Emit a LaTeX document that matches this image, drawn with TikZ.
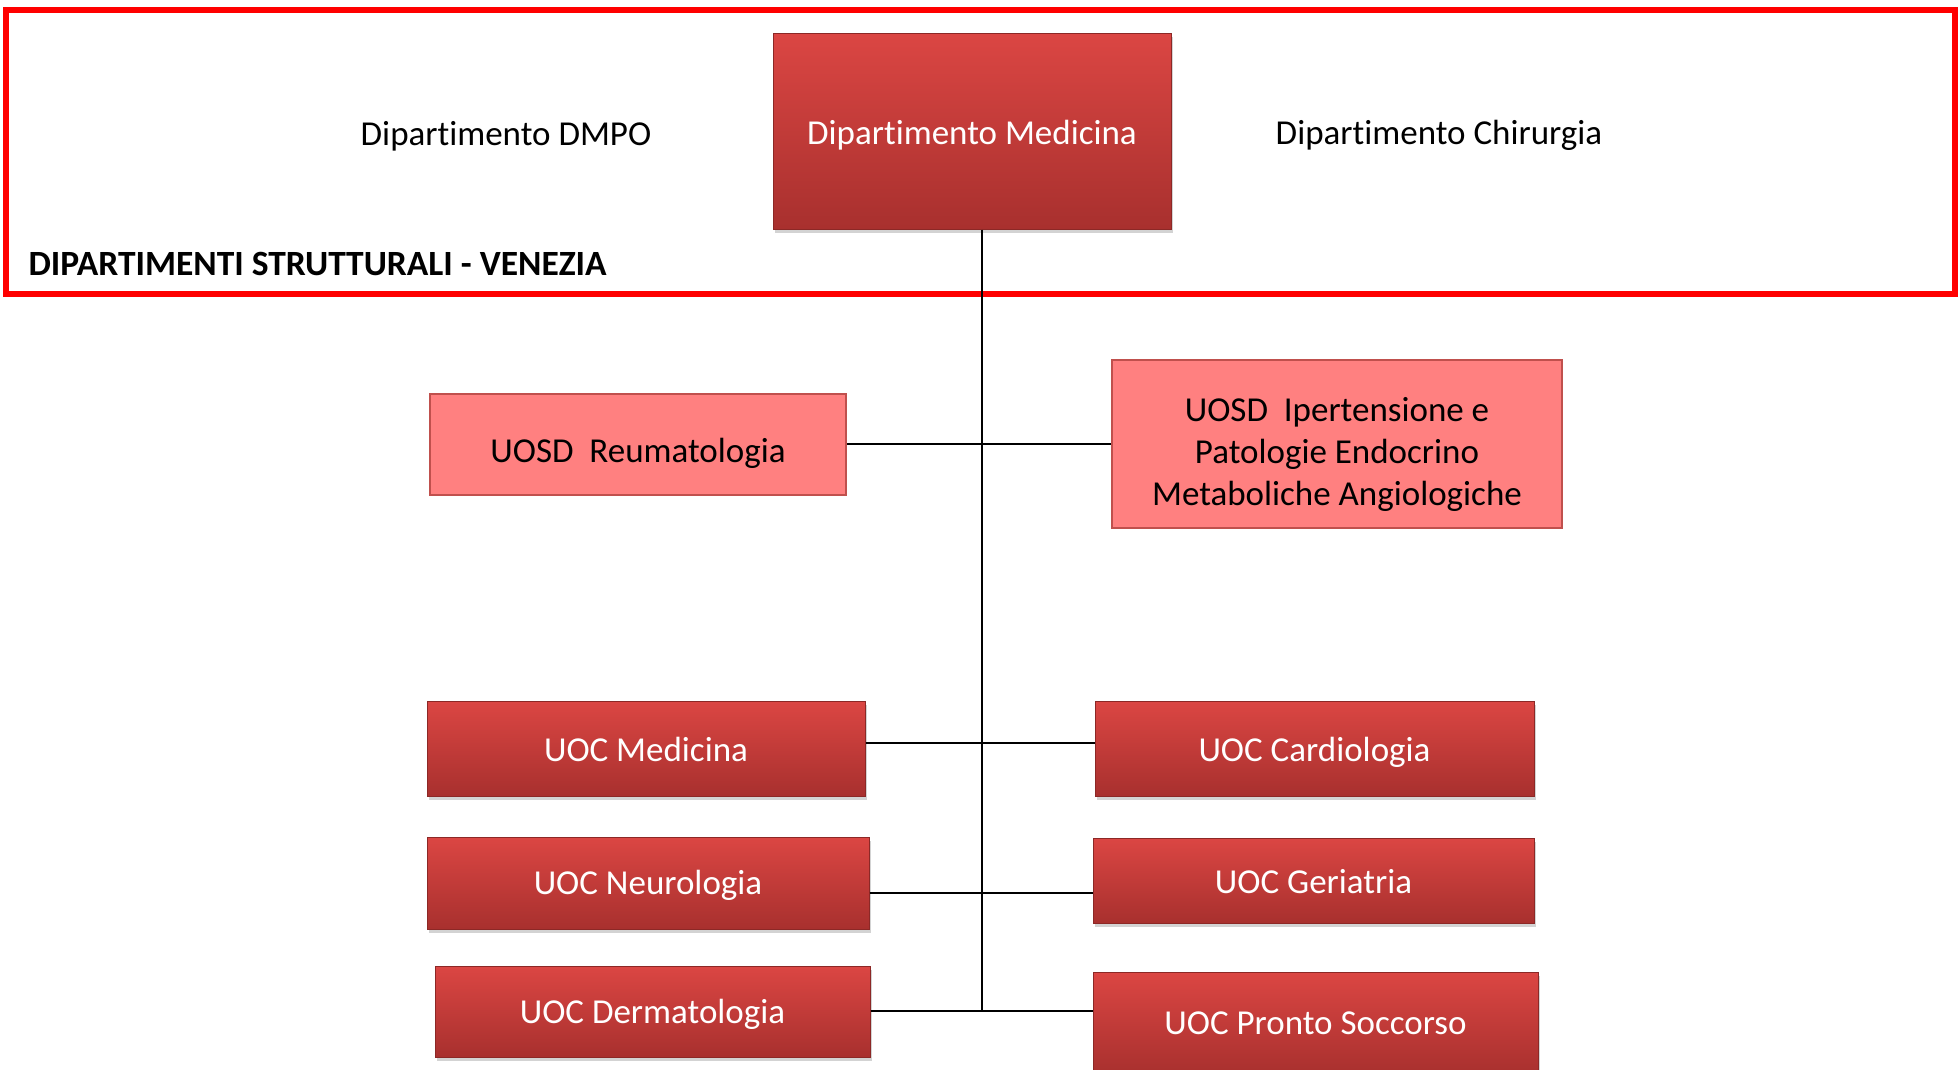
\documentclass[tikz,border=0pt]{standalone}
\usepackage{fontspec}
\setmainfont{Carlito}[Ligatures=NoCommon]
\usepackage{tikz}
\usetikzlibrary{shadows}

\definecolor{uoctop}{RGB}{219,70,67}
\definecolor{uocbot}{RGB}{168,48,46}
\definecolor{uocedge}{RGB}{140,40,38}
\definecolor{uosdfill}{RGB}{255,128,128}
\definecolor{uosdedge}{RGB}{192,80,77}

% strut that pushes the first line down inside a box
\newcommand{\lift}[1]{\rule{0pt}{#1}}

\tikzset{
    uoc/.style={draw=uocedge, line width=1pt, top color=uoctop, bottom color=uocbot,
        text=white, drop shadow={opacity=0.35, shadow xshift=2pt, shadow yshift=-4pt}},
    uosd/.style={draw=uosdedge, line width=2pt, fill=uosdfill, align=center},
    link/.style={line width=2pt}
}

\begin{document}
\begin{tikzpicture}[x=1pt, y=-1pt, font=\fontsize{35}{42}\selectfont]
    \useasboundingbox (0,0) rectangle (1959,1069);
    % frame of the structural departments
    \draw[red, line width=6pt] (6,10) rectangle (1955,294);
    \node(dmpo) at (506,136) {Dipartimento DMPO};
    \node(dmed)[uoc, minimum width=398pt, minimum height=196pt] at (972,131) {\lift{33pt}Dipartimento Medicina};
    \node(dchir) at (1439,135) {Dipartimento Chirurgia};
    \node(title)[anchor=west, font=\fontsize{35.5}{42}\selectfont\bfseries] at (25,264) {DIPARTIMENTI STRUTTURALI - VENEZIA};

    % simple units
    \node(reuma)[uosd, minimum width=416pt, minimum height=101pt] at (638,444) {\lift{42pt}UOSD\ \ Reumatologia};
    \node(iper)[uosd, minimum width=450pt, minimum height=168pt] at (1337,444)
        {\lift{44pt}UOSD\ \ Ipertensione e\\Patologie Endocrino\\Metaboliche Angiologiche};

    % complex units
    \node(med)[uoc, minimum width=438pt, minimum height=95pt] at (646,748.5) {\lift{27pt}UOC Medicina};
    \node(neuro)[uoc, minimum width=442pt, minimum height=92pt] at (648,883) {\lift{28pt}UOC Neurologia};
    \node(derma)[uoc, minimum width=435pt, minimum height=91pt] at (652.5,1011.5) {\lift{29pt}UOC Dermatologia};
    \node(cardio)[uoc, minimum width=439pt, minimum height=95pt] at (1314.5,748.5) {\lift{32pt}UOC Cardiologia};
    \node(geria)[uoc, minimum width=441pt, minimum height=85pt] at (1313.5,880.5) {\lift{27pt}UOC Geriatria};
    \node(ps)[uoc, minimum width=445pt, minimum height=103pt] at (1315.5,1023.5) {UOC Pronto Soccorso};

    \coordinate(r1) at (982,743);
    \coordinate(r2) at (982,893);
    \coordinate(r3) at (982,1011);
    \draw[link] (dmed.south -| r3) -- (r3);
    \draw[link] (reuma) -- (iper);
    \draw[link] (med.east |- r1) -- (cardio.west |- r1);
    \draw[link] (neuro.east |- r2) -- (geria.west |- r2);
    \draw[link] (derma.east |- r3) -- (ps.west |- r3);
\end{tikzpicture}
\end{document}
